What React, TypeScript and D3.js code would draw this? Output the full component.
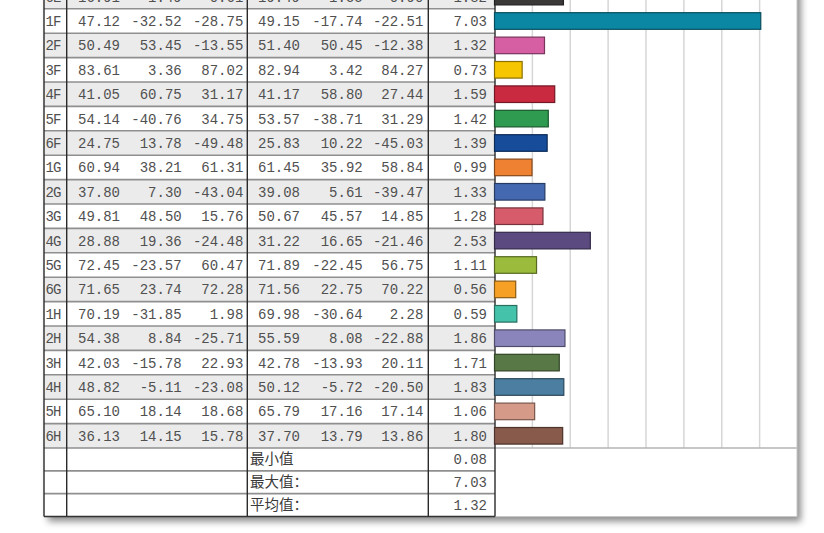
import React, { useEffect, useRef } from 'react';
import * as d3 from 'd3';

// row labels and the six Lab columns (measured / reference), then the delta E
const rowLabels = ['6E', '1F', '2F', '3F', '4F', '5F', '6F', '1G', '2G', '3G', '4G', '5G', '6G', '1H', '2H', '3H', '4H', '5H', '6H'];
const measL = [16.91, 47.12, 50.49, 83.61, 41.05, 54.14, 24.75, 60.94, 37.8, 49.81, 28.88, 72.45, 71.65, 70.19, 54.38, 42.03, 48.82, 65.1, 36.13];
const measA = [1.49, -32.52, 53.45, 3.36, 60.75, -40.76, 13.78, 38.21, 7.3, 48.5, 19.36, -23.57, 23.74, -31.85, 8.84, -15.78, -5.11, 18.14, 14.15];
const measB = [0.61, -28.75, -13.55, 87.02, 31.17, 34.75, -49.48, 61.31, -43.04, 15.76, -24.48, 60.47, 72.28, 1.98, -25.71, 22.93, -23.08, 18.68, 15.78];
const refL = [19.49, 49.15, 51.4, 82.94, 41.17, 53.57, 25.83, 61.45, 39.08, 50.67, 31.22, 71.89, 71.56, 69.98, 55.59, 42.78, 50.12, 65.79, 37.7];
const refA = [1.55, -17.74, 50.45, 3.42, 58.8, -38.71, 10.22, 35.92, 5.61, 45.57, 16.65, -22.45, 22.75, -30.64, 8.08, -13.93, -5.72, 17.16, 13.79];
const refB = [0.9, -22.51, -12.38, 84.27, 27.44, 31.29, -45.03, 58.84, -39.47, 14.85, -21.46, 56.75, 70.22, 2.28, -22.88, 20.11, -20.5, 17.14, 13.86];
const deltaE = [1.82, 7.03, 1.32, 0.73, 1.59, 1.42, 1.39, 0.99, 1.33, 1.28, 2.53, 1.11, 0.56, 0.59, 1.86, 1.71, 1.83, 1.06, 1.8];
const barColors = [
  '#3b3838', '#0b87a3', '#d55fa2', '#f6c700', '#c92a40', '#2f9b50', '#164c9a', '#ee8232', '#4569b0', '#d65b6b',
  '#5b4a80', '#9bbb3c', '#f6a126', '#45c3aa', '#8a86bb', '#587845', '#4b7ea0', '#d59a88', '#875a4c',
];
const summaryLabels = ['最小值', '最大值：', '平均值：'];
const summaryValues = [0.08, 7.03, 1.32];
const gridTicks = [1, 2, 3, 4, 5, 6, 7];

const W = 824;
const H = 533;

const App: React.FC = () => {
  const svgRef = useRef<SVGSVGElement>(null);

  useEffect(() => {
    if (!svgRef.current) return;
    const svg = d3.select(svgRef.current);
    svg.selectAll('*').remove();

    const left = 44;
    const colLabel = 66.7;
    const sep1 = 247.3;
    const sep2 = 428.3;
    const sepBar = 495;
    const right = 797;
    const rowH = 24.4;
    const top = 8.8 - rowH;
    const dataBottom = top + rowH * rowLabels.length;
    const bottom = 516.5;

    const y = d3.scaleBand<number>()
      .domain(d3.range(rowLabels.length))
      .range([top, dataBottom]);
    const ySum = d3.scaleBand<number>()
      .domain(d3.range(summaryLabels.length))
      .range([dataBottom, bottom]);
    const x = d3.scaleLinear().domain([0, 8]).range([sepBar - 0.5, right + 0.5]);

    const defs = svg.append('defs');
    const f = defs.append('filter').attr('id', 'shadow')
      .attr('x', '-5%').attr('y', '-5%').attr('width', '115%').attr('height', '115%');
    f.append('feDropShadow')
      .attr('dx', 4).attr('dy', 5).attr('stdDeviation', 3.5)
      .attr('flood-color', '#000').attr('flood-opacity', 0.45);

    svg.append('rect')
      .attr('x', left).attr('y', top - 30)
      .attr('width', right - left).attr('height', bottom - top + 30)
      .attr('fill', '#fff')
      .attr('filter', 'url(#shadow)');

    // row shading
    svg.append('g').selectAll('rect')
      .data(rowLabels.map((_, i) => i).filter(i => i % 2 === 0))
      .join('rect')
      .attr('x', left).attr('y', i => y(i)!)
      .attr('width', sepBar - left).attr('height', y.bandwidth())
      .attr('fill', '#ebebeb');

    // grid lines
    svg.append('g').selectAll('line')
      .data(gridTicks)
      .join('line')
      .attr('x1', d => x(d)).attr('x2', d => x(d))
      .attr('y1', top - 30).attr('y2', dataBottom)
      .attr('stroke', '#d6d6d6').attr('stroke-width', 1.5);

    // horizontal rules in the table part
    const hLines = [
      ...d3.range(rowLabels.length).map(i => y(i)!),
      ...d3.range(1, summaryLabels.length).map(i => ySum(i)!),
      dataBottom,
    ];
    svg.append('g').selectAll('line')
      .data(hLines)
      .join('line')
      .attr('x1', left).attr('x2', sepBar)
      .attr('y1', d => d).attr('y2', d => d)
      .attr('stroke', '#8f8f8f').attr('stroke-width', 1.6);

    svg.append('line')
      .attr('x1', sepBar).attr('x2', right)
      .attr('y1', dataBottom).attr('y2', dataBottom)
      .attr('stroke', '#b5b5b5').attr('stroke-width', 1.5);

    svg.append('line')
      .attr('x1', left).attr('x2', sepBar)
      .attr('y1', bottom).attr('y2', bottom)
      .attr('stroke', '#333').attr('stroke-width', 1.4);
    svg.append('line')
      .attr('x1', sepBar).attr('x2', right)
      .attr('y1', bottom).attr('y2', bottom)
      .attr('stroke', '#c8c8c8').attr('stroke-width', 1);
    svg.append('line')
      .attr('x1', right).attr('x2', right)
      .attr('y1', top - 30).attr('y2', bottom)
      .attr('stroke', '#c8c8c8').attr('stroke-width', 1);

    // vertical rules
    svg.append('g').selectAll('line')
      .data([left, colLabel, sep1, sep2, sepBar])
      .join('line')
      .attr('x1', d => d).attr('x2', d => d)
      .attr('y1', top - 30).attr('y2', bottom)
      .attr('stroke', '#2a2a2a').attr('stroke-width', 1.4);

    // bars
    const bh = y.bandwidth() * 0.68;
    svg.append('g').selectAll('rect')
      .data(deltaE)
      .join('rect')
      .attr('x', x(0))
      .attr('y', (_, i) => y(i)! + (y.bandwidth() - bh) / 2)
      .attr('width', d => x(d) - x(0))
      .attr('height', bh)
      .attr('fill', (_, i) => barColors[i])
      .attr('stroke', (_, i) => d3.color(barColors[i])!.darker(1.6).formatHex())
      .attr('stroke-width', 1.2);

    const numFont = '"Liberation Mono", "DejaVu Sans Mono", monospace';
    const fmt = (v: number) => v.toFixed(2);
    const textColor = '#505050';

    const columns: { vals: number[]; xr: number }[] = [
      { vals: measL, xr: 120 },
      { vals: measA, xr: 181.7 },
      { vals: measB, xr: 243.3 },
      { vals: refL, xr: 300 },
      { vals: refA, xr: 362.7 },
      { vals: refB, xr: 423.3 },
      { vals: deltaE, xr: 487 },
    ];

    const text = svg.append('g')
      .style('font-family', numFont)
      .style('font-size', '14px')
      .attr('fill', textColor);

    text.selectAll('text.lbl')
      .data(rowLabels)
      .join('text')
      .attr('class', 'lbl')
      .attr('x', 45.5)
      .attr('y', (_, i) => y(i)! + y.bandwidth() / 2 + 5)
      .attr('letter-spacing', -1)
      .text(d => d);

    columns.forEach((c, ci) => {
      text.selectAll(`text.c${ci}`)
        .data(c.vals)
        .join('text')
        .attr('class', `c${ci}`)
        .attr('x', c.xr)
        .attr('y', (_, i) => y(i)! + y.bandwidth() / 2 + 5)
        .attr('text-anchor', 'end')
        .text(d => fmt(d));
    });

    text.selectAll('text.sv')
      .data(summaryValues)
      .join('text')
      .attr('class', 'sv')
      .attr('x', 487)
      .attr('y', (_, i) => ySum(i)! + ySum.bandwidth() / 2 + 5)
      .attr('text-anchor', 'end')
      .text(d => fmt(d));

    svg.append('g')
      .style('font-family', '"Noto Sans CJK SC", sans-serif')
      .style('font-size', '14.5px')
      .attr('fill', '#3a3a3a')
      .selectAll('text')
      .data(summaryLabels)
      .join('text')
      .attr('x', 250)
      .attr('y', (_, i) => ySum(i)! + ySum.bandwidth() / 2 + 5)
      .text(d => d);
  }, []);

  return (
    <svg
      ref={svgRef}
      width={W}
      height={H}
      style={{ position: 'absolute', left: 0, top: 0, background: '#fff' }}
    />
  );
};

export default App;
